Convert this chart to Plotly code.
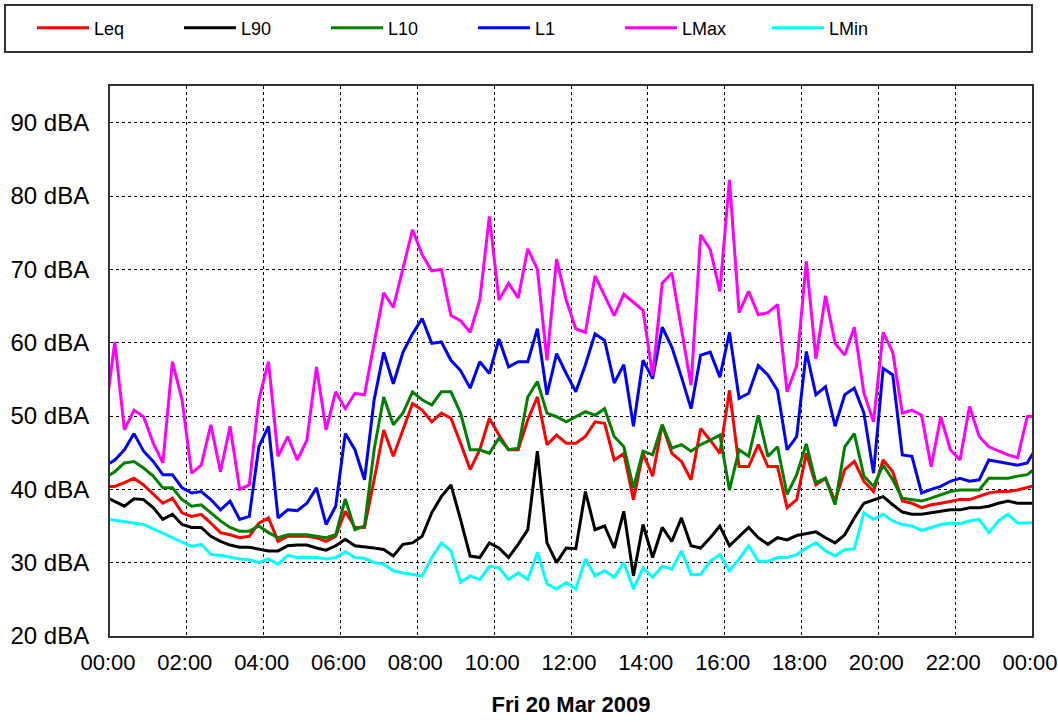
import pandas as pd
import plotly.graph_objects as go

# 15-minute interval data, plotted at mid-interval; first/last entries belong to
# the neighbouring days and are clipped by the axis range.
times = pd.date_range(start="2009-03-19 23:52:30", periods=98, freq="15min")

leq = [40.4,
       40.4, 40.9, 41.5, 40.6, 39.3, 38.1, 38.8, 36.8, 36.3, 36.6, 35.4, 34.1, 33.8, 33.4, 33.6, 35.4, 36.1, 32.9, 33.6, 33.6, 33.6, 33.4, 32.9, 33.6, 37,
       34.8, 34.8, 41.3, 48.1, 44.5, 48.1, 51.7, 50.8, 49.2, 50.4, 49.7, 46.3, 42.7, 45.4, 49.7, 47.4, 45.4, 45.4, 49.5, 52.6, 46.1, 47.4, 46.3, 46.3,
       47.2, 49.2, 49, 44, 44.9, 38.6, 44.9, 41.8, 48.8, 44.9, 43.8, 41.3, 48.3, 46.7, 44.9, 53.5, 43.1, 43.1, 46.1, 43.1, 43.1, 37.5, 38.6, 44.9,
       40.6, 41.5, 38.4, 42.7, 43.8, 41.1, 39.7, 44, 42.4, 38.4, 38.1, 37.5, 37.9, 38.1, 38.4, 38.6, 38.6, 39, 39.5, 39.7, 39.7, 39.9, 40.2, 40.6]

l90 = [39,
       38.4, 37.7, 38.7, 38.6, 37.5, 35.9, 36.6, 35.2, 34.8, 34.8, 33.6, 32.9, 32.4, 32.1, 32.1, 31.8, 31.6, 31.6, 32.3, 32.4, 32.4, 32, 31.7, 32.3, 33.2,
       32.3, 32.2, 32, 31.8, 30.9, 32.5, 32.7, 33.6, 36.8, 39, 40.6, 35.9, 30.9, 30.7, 32.7, 32, 30.7, 32.5, 34.5, 45.2, 32.7, 30, 32, 31.9,
       39.7, 34.5, 35, 32, 37, 28.2, 35.2, 30.7, 34.8, 32.9, 36.1, 32.3, 32, 33.4, 35, 32.3, 33.6, 34.8, 33.4, 32.5, 33.4, 33.1, 33.7, 34,
       34.2, 33.4, 32.7, 33.8, 36.1, 38.1, 38.5, 39, 37.9, 36.9, 36.6, 36.6, 36.8, 37, 37.2, 37.2, 37.5, 37.5, 37.7, 38.1, 38.4, 38.1, 38.1, 38.1]

l10 = [41.6,
       42.4, 43.6, 43.8, 42.9, 41.8, 40.2, 40.2, 38.6, 37.7, 37.9, 36.8, 35.7, 34.8, 34.3, 34.3, 35, 34.1, 33.4, 33.8, 33.8, 33.8, 33.6, 33.4, 33.8, 38.7,
       34.5, 35, 45.4, 52.6, 48.8, 50.4, 53.3, 52.2, 51.5, 53.3, 53.3, 50.4, 45.4, 45.4, 44.9, 47, 45.4, 45.6, 52.6, 54.7, 50.4, 49.9, 49.2, 49.9,
       50.6, 50.1, 51, 47.2, 45.8, 40.2, 45.2, 44.7, 48.8, 45.6, 46.1, 45.2, 46.1, 46.7, 47.4, 39.9, 45.4, 44.5, 50.1, 44.5, 45.8, 39.3, 42, 46.2,
       40.9, 41.5, 37.9, 45.8, 47.6, 41.8, 40.4, 43.3, 41.3, 38.8, 38.6, 38.4, 38.8, 39.3, 39.7, 39.9, 39.9, 39.9, 41.5, 41.5, 41.5, 41.8, 42, 43]

l1 = [43.2,
      44, 45.4, 47.6, 45.2, 43.8, 42, 42, 40.2, 39.5, 39.7, 38.6, 37.2, 38.4, 35.9, 36.3, 45.8, 48.6, 36.1, 37.2, 37.1, 38.1, 40.2, 35.2, 37.7, 47.6,
      45.4, 41.3, 52.2, 58.7, 54.4, 58.7, 61.2, 63.3, 59.9, 60.1, 57.6, 56.2, 53.8, 57.4, 55.8, 60.5, 56.7, 57.4, 57.4, 61.9, 52.9, 58.5, 55.8, 53.3,
      57, 61.2, 60.3, 54.5, 57, 48.6, 57.6, 55.1, 62.1, 59.4, 55.3, 51, 58.3, 58.7, 55.3, 61.4, 52.4, 53.1, 56.9, 55.6, 53.5, 45.4, 47.2, 58.8,
      52.9, 54, 48.6, 52.9, 53.8, 50.4, 42.2, 56.5, 55.6, 44.7, 44.5, 39.5, 40, 40.4, 41.1, 41.5, 41.1, 41.3, 44, 43.8, 43.5, 43.3, 43.6, 45.8]

lmax = [50,
        60.1, 48.1, 50.8, 49.9, 46.3, 43.6, 57.4, 52.2, 42.2, 43.3, 48.8, 42.4, 48.6, 40, 40.6, 52.2, 57.4, 44.5, 47.2, 44, 46.7, 56.7, 48.1, 53.3, 51,
        53.1, 52.9, 59.9, 66.8, 64.8, 70, 75.4, 72, 69.8, 70, 63.7, 63, 61.4, 65.8, 77.2, 65.8, 68.1, 66.1, 72.8, 70, 57.6, 71.4, 65.8, 61.9,
        61.4, 69.1, 66.4, 63.7, 66.6, 65.5, 64.4, 55.5, 68.1, 69.5, 61.9, 54.2, 74.7, 72.7, 67, 82.2, 64.1, 67, 63.8, 64.1, 65.2, 53.3, 56.9, 71.1,
        57.8, 66.4, 59.9, 58.3, 62.1, 53.1, 49.2, 61.4, 58.7, 50.4, 50.8, 50.1, 43.1, 49.9, 45.4, 44, 51.3, 47.2, 45.8, 45.2, 44.7, 44.3, 49.9, 50]

lmin = [36,
        35.8, 35.5, 35.3, 35.2, 34.6, 34, 33.4, 32.8, 32.2, 32.5, 31.1, 31, 30.7, 30.5, 30.4, 30, 30.5, 29.8, 31, 30.7, 30.7, 30.7, 30.5, 30.7, 31.5,
        30.7, 30.6, 30, 29.8, 28.9, 28.6, 28.4, 28.2, 30.7, 32.7, 31.6, 27.3, 28.2, 27.7, 29.5, 29.3, 27.7, 28.6, 27.7, 31.4, 27.1, 26.4, 27.3, 26.4,
        30.5, 28.2, 28.9, 28, 30, 26.4, 29.3, 28, 29.5, 29.1, 31.6, 28.4, 28.4, 30.2, 31.1, 28.9, 30.5, 32.3, 30.2, 30.2, 30.7, 30.7, 31.1, 32,
        32.7, 31.6, 30.9, 31.8, 31.9, 36.8, 35.9, 36.6, 35.7, 35.2, 35, 34.4, 34.8, 35.2, 35.4, 35.3, 35.7, 35.9, 34.1, 35.7, 36.6, 35.4, 35.4, 35.5]

series = [
    ("Leq", leq, "#ff0000"),
    ("L90", l90, "#000000"),
    ("L10", l10, "#008000"),
    ("L1", l1, "#0000ff"),
    ("LMax", lmax, "#ff00ff"),
    ("LMin", lmin, "#00ffff"),
]

y_tickvals = [20, 30, 40, 50, 60, 70, 80, 90]
y_ticktext = ["20 dBA", "30 dBA", "40 dBA", "50 dBA", "60 dBA", "70 dBA", "80 dBA", "90 dBA"]
x_tickvals = pd.date_range(start="2009-03-20 00:00", end="2009-03-21 00:00", freq="2h")
x_ticktext = ["00:00", "02:00", "04:00", "06:00", "08:00", "10:00", "12:00",
              "14:00", "16:00", "18:00", "20:00", "22:00", "00:00"]
x_title = "Fri 20 Mar 2009"

FONT = "Liberation Sans, Arial, sans-serif"

fig = go.Figure()
for name, vals, color in series:
    fig.add_trace(go.Scatter(
        x=times[:len(vals)], y=vals, name=name, mode="lines",
        line=dict(color=color, width=3),
    ))

W, H = 1058, 722
ml, mr, mt, mb = 110, 26, 86, 85.5
pw, ph = W - ml - mr, H - mt - mb

def px_x(p):  # window px -> paper x
    return (p - ml) / pw

def px_y(p):  # window px -> paper y
    return (H - mb - p) / ph

fig.update_layout(
    width=W, height=H,
    margin=dict(l=ml, r=mr, t=mt, b=mb, pad=0, autoexpand=False),
    paper_bgcolor="white", plot_bgcolor="white",
    font=dict(family=FONT, color="black", size=23),
    showlegend=True,
    legend=dict(
        orientation="h", x=px_x(32), xanchor="left", y=px_y(28), yanchor="middle",
        itemwidth=52, entrywidth=80, entrywidthmode="pixels",
        font=dict(family=FONT, size=18, color="black"),
        bgcolor="rgba(0,0,0,0)", borderwidth=0,
        traceorder="normal",
    ),
    shapes=[dict(
        type="rect", xref="paper", yref="paper",
        x0=px_x(5), x1=px_x(1032), y0=px_y(52), y1=px_y(5),
        line=dict(color="#333333", width=2), fillcolor="rgba(0,0,0,0)",
    )],
    xaxis=dict(
        type="date",
        range=["2009-03-20 00:00", "2009-03-21 00:00"],
        tickmode="array", tickvals=x_tickvals, ticktext=x_ticktext,
        showgrid=True, gridcolor="black", gridwidth=1, griddash="dot",
        showline=True, linecolor="#333333", linewidth=2, mirror=True,
        ticks="", ticklabelstandoff=6, ticklabelshift=-2, ticklabeloverflow="allow",
        tickfont=dict(size=22),
        title=dict(text="<b>" + x_title + "</b>", font=dict(size=22), standoff=22),
        zeroline=False,
    ),
    yaxis=dict(
        range=[20, 95], tickmode="array", tickvals=y_tickvals, ticktext=y_ticktext,
        showgrid=True, gridcolor="black", gridwidth=1, griddash="dot",
        showline=True, linecolor="#333333", linewidth=2, mirror=True,
        ticks="", ticklabelstandoff=14,
        tickfont=dict(size=24),
        zeroline=False,
    ),
)

fig.write_html(
    "out.html",
    config={"displayModeBar": False},
    post_script="document.body.style.margin='0';document.body.style.overflow='hidden';",
)
